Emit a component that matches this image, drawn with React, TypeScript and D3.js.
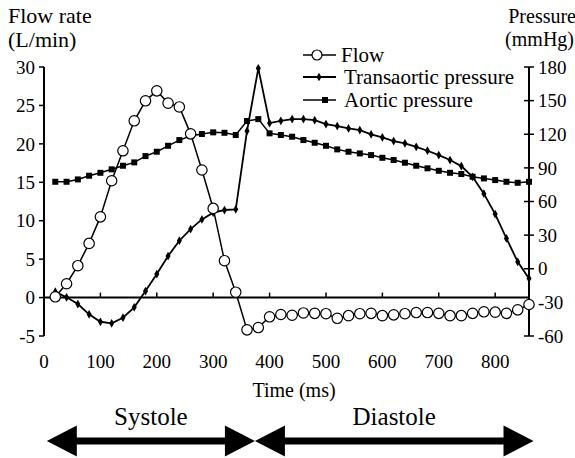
import * as d3 from 'd3';
import React, { useEffect, useRef } from 'react';

// values, one point every 20 ms
const timeMs = [20, 40, 60, 80, 100, 120, 140, 160, 180, 200, 220, 240, 260, 280, 300, 320, 340, 360, 380, 400,
    420, 440, 460, 480, 500, 520, 540, 560, 580, 600, 620, 640, 660, 680, 700, 720, 740, 760, 780, 800, 820, 840, 860];
const flow = [0.1, 1.8, 4.15, 7.05, 10.5, 15.2, 19.1, 23.0, 25.6, 26.9, 25.3, 24.8, 21.3, 16.6, 11.6, 4.8, 0.7, -4.2, -3.9, -2.5,
    -2.2, -2.3, -2.0, -2.05, -2.1, -2.7, -2.35, -2.1, -2.05, -2.35, -2.25, -2.1, -1.95, -1.95, -2.05, -2.35, -2.35, -2.05, -1.85, -1.9, -2.05, -1.6, -0.9];
const transaorticPressure = [-20.5, -25.5, -31.5, -40.7, -47.3, -48.7, -43.7, -34.4, -19.9, -4.7, 11.3, 25, 35.4, 44, 50, 52.4, 53, 123, 178.8, 130,
    132, 133.5, 133.5, 132.6, 129, 127.3, 125.2, 123.7, 119.9, 117.2, 113.9, 111.9, 108.8, 105.3, 101.4, 97, 91.6, 82, 67, 48.8, 27.1, 6.2, -8.6];
const aorticPressure = [77.6, 77.6, 79.7, 83, 85.6, 88.7, 91.9, 94.9, 100.5, 104.4, 109.7, 114.8, 118.4, 120.2, 121.7, 121.3, 119.3, 131.8, 133.5, 120.8,
    119.3, 117.8, 114.8, 112.4, 109.7, 106.5, 104.4, 102.9, 101.4, 99, 97, 94.6, 91.9, 89.6, 87.4, 85.6, 84.5, 82.1, 80.6, 79.1, 77.6, 76.7, 77.6];

const flowTicks = [-5, 0, 5, 10, 15, 20, 25, 30];
const pressureTicks = [-60, -30, 0, 30, 60, 90, 120, 150, 180];
const timeTicks = [0, 100, 200, 300, 400, 500, 600, 700, 800];

const phaseNames = ['Systole', 'Diastole'];
const phaseStart = [5, 374];
const phaseEnd = [374, 868];

const legendLabels = ['Flow', 'Transaortic pressure', 'Aortic pressure'];

const W = 575;
const H = 458;
const FONT = '"Liberation Serif", "Times New Roman", serif';

export default function App() {
    const svgRef = useRef<SVGSVGElement>(null);

    useEffect(() => {
        document.body.style.margin = '0';
        const svg = d3.select(svgRef.current);
        svg.selectAll('*').remove();
        svg.attr('width', W).attr('height', H).style('font-family', FONT).style('display', 'block');

        const x = d3.scaleLinear().domain([0, 860]).range([44, 529]);
        const yFlow = d3.scaleLinear().domain([-5, 30]).range([336, 67]);
        const yP = d3.scaleLinear().domain([-60, 180]).range([336, 67]);

        const g = svg.append('g');

        // axis titles
        g.append('text').attr('x', 8).attr('y', 23).attr('font-size', 22).text('Flow rate');
        g.append('text').attr('x', 8).attr('y', 47).attr('font-size', 22).text('(L/min)');
        g.append('text').attr('x', 576).attr('y', 23).attr('font-size', 20).attr('text-anchor', 'end').text('Pressure');
        g.append('text').attr('x', 574).attr('y', 46).attr('font-size', 20).attr('text-anchor', 'end').text('(mmHg)');

        // left axis
        g.append('line').attr('x1', x(0)).attr('x2', x(0)).attr('y1', yFlow(30)).attr('y2', yFlow(-5))
            .attr('stroke', '#000').attr('stroke-width', 2);
        flowTicks.forEach((t) => {
            g.append('line').attr('x1', x(0) - 5).attr('x2', x(0)).attr('y1', yFlow(t)).attr('y2', yFlow(t))
                .attr('stroke', '#000').attr('stroke-width', 1.5);
            g.append('text').attr('x', x(0) - 9).attr('y', yFlow(t)).attr('dy', '0.35em')
                .attr('text-anchor', 'end').attr('font-size', 19).text(t);
        });

        // right axis
        g.append('line').attr('x1', x(860)).attr('x2', x(860)).attr('y1', yP(180)).attr('y2', yP(-60))
            .attr('stroke', '#000').attr('stroke-width', 2);
        pressureTicks.forEach((t) => {
            g.append('line').attr('x1', x(860) - 5).attr('x2', x(860) + 5).attr('y1', yP(t)).attr('y2', yP(t))
                .attr('stroke', '#000').attr('stroke-width', 1.5);
            g.append('text').attr('x', x(860) + 9).attr('y', yP(t)).attr('dy', '0.35em')
                .attr('font-size', 19).text(t);
        });

        // time axis sits on flow = 0
        g.append('line').attr('x1', x(0)).attr('x2', x(860)).attr('y1', yFlow(0)).attr('y2', yFlow(0))
            .attr('stroke', '#000').attr('stroke-width', 2);
        timeTicks.forEach((t) => {
            if (t > 0) {
                g.append('line').attr('x1', x(t)).attr('x2', x(t)).attr('y1', yFlow(0) - 5).attr('y2', yFlow(0))
                    .attr('stroke', '#000').attr('stroke-width', 1.5);
            }
            g.append('text').attr('x', x(t)).attr('y', 368).attr('text-anchor', 'middle')
                .attr('font-size', 19).text(t);
        });
        g.append('text').attr('x', 294).attr('y', 397).attr('text-anchor', 'middle').attr('font-size', 20).text('Time (ms)');

        // series
        const lineFlow = d3.line<number>().x((_, i) => x(timeMs[i])).y((d) => yFlow(d));
        const lineP = d3.line<number>().x((_, i) => x(timeMs[i])).y((d) => yP(d));
        const diamond = d3.symbol().type(d3.symbolDiamond).size(22);
        const square = d3.symbol().type(d3.symbolSquare).size(36);

        g.append('path').attr('d', lineP(aorticPressure)).attr('fill', 'none').attr('stroke', '#000').attr('stroke-width', 1.5);
        g.selectAll('.aortic').data(aorticPressure).join('path').attr('class', 'aortic')
            .attr('d', square()).attr('transform', (d, i) => `translate(${x(timeMs[i])},${yP(d)})`).attr('fill', '#000');

        g.append('path').attr('d', lineP(transaorticPressure)).attr('fill', 'none').attr('stroke', '#000').attr('stroke-width', 1.8);
        g.selectAll('.trans').data(transaorticPressure).join('path').attr('class', 'trans')
            .attr('d', diamond()).attr('transform', (d, i) => `translate(${x(timeMs[i])},${yP(d)})`).attr('fill', '#000');

        g.append('path').attr('d', lineFlow(flow)).attr('fill', 'none').attr('stroke', '#000').attr('stroke-width', 1.5);
        g.selectAll('.flow').data(flow).join('circle').attr('class', 'flow')
            .attr('cx', (_, i) => x(timeMs[i])).attr('cy', (d) => yFlow(d)).attr('r', 5.2)
            .attr('fill', '#fff').attr('stroke', '#000').attr('stroke-width', 1.2);

        // legend
        const legendY = [55, 77, 100];
        legendLabels.forEach((label, i) => {
            const ly = legendY[i];
            g.append('line').attr('x1', 303).attr('x2', 336).attr('y1', ly).attr('y2', ly)
                .attr('stroke', '#000').attr('stroke-width', i === 1 ? 2 : 1.5);
            if (i === 0) {
                g.append('circle').attr('cx', 317).attr('cy', ly).attr('r', 5)
                    .attr('fill', '#fff').attr('stroke', '#000').attr('stroke-width', 1.2);
            } else if (i === 1) {
                g.append('path').attr('d', diamond()).attr('transform', `translate(319,${ly})`).attr('fill', '#000');
            } else {
                g.append('path').attr('d', square()).attr('transform', `translate(325,${ly})`).attr('fill', '#000');
            }
            g.append('text').attr('x', i === 0 ? 341 : 344).attr('y', ly).attr('dy', '0.33em')
                .attr('font-size', 21).text(label);
        });

        // systole / diastole arrows
        const cy = 441;
        const head = 30;
        const half = 15.5;
        const shaft = 3.5;
        phaseNames.forEach((name, i) => {
            const a = x(phaseStart[i]);
            const b = x(phaseEnd[i]);
            const pts: [number, number][] = [
                [a, cy], [a + head, cy - half], [a + head, cy - shaft], [b - head, cy - shaft], [b - head, cy - half],
                [b, cy], [b - head, cy + half], [b - head, cy + shaft], [a + head, cy + shaft], [a + head, cy + half],
            ];
            g.append('path').attr('d', 'M' + pts.map((p) => p.join(',')).join('L') + 'Z').attr('fill', '#000');
            g.append('text').attr('x', (a + b) / 2).attr('y', 425).attr('text-anchor', 'middle')
                .attr('font-size', 25).text(name);
        });
    }, []);

    return <svg ref={svgRef} />;
}
